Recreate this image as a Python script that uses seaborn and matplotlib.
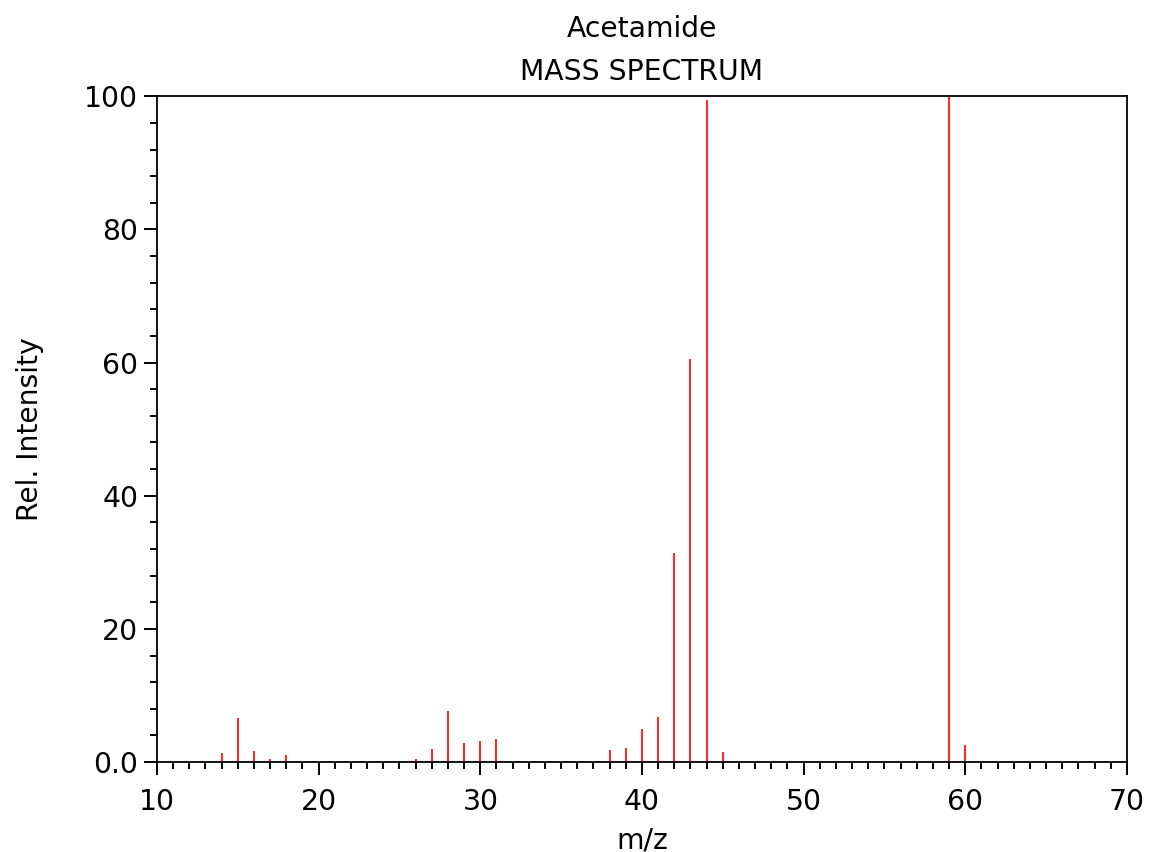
import numpy as np
import matplotlib.pyplot as plt
import seaborn as sns
from matplotlib.ticker import MultipleLocator

# peak positions (m/z) and relative intensities
mz = [14, 15, 16, 17, 18, 25, 26, 27, 28, 29, 30, 31,
      38, 39, 40, 41, 42, 43, 44, 45, 46, 54, 59, 60, 61]
intensity = [1.3, 6.6, 1.6, 0.4, 1.1, 0.1, 0.4, 1.9, 7.6, 2.9, 3.2, 3.5,
             1.8, 2.1, 4.9, 6.7, 31.4, 60.5, 99.4, 1.5, 0.2, 0.1, 100.0, 2.6, 0.2]

sns.set_theme(style="ticks")
plt.rcParams['font.family'] = ['DejaVu Sans']
FS = 20.3

fig = plt.figure(figsize=(11.5, 8.52), dpi=100)
ax = fig.add_axes([0.1365, 0.1056, 0.8435, 0.7814])

ax.vlines(mz, 0, intensity, color="red", linewidth=1.2)

ax.set_xlim(10, 70)
ax.set_ylim(0, 100)
ax.xaxis.set_major_locator(MultipleLocator(10))
ax.xaxis.set_minor_locator(MultipleLocator(1))
ax.yaxis.set_major_locator(MultipleLocator(20))
ax.yaxis.set_minor_locator(MultipleLocator(4))
ax.set_yticks([0, 20, 40, 60, 80, 100])
ax.set_yticklabels(["0.0", "20", "40", "60", "80", "100"])

ax.tick_params(axis="both", which="major", direction="out", length=9.5, width=1.4,
               labelsize=FS, color="black", labelcolor="black")
ax.tick_params(axis="x", which="major", pad=9.5)
ax.tick_params(axis="y", which="major", pad=4)
ax.tick_params(axis="both", which="minor", direction="out", length=5, width=1.4,
               color="black")
for s in ax.spines.values():
    s.set_color("black")
    s.set_linewidth(1.3)

ax.set_xlabel("m/z", fontsize=FS, color="black", labelpad=7)
ax.set_ylabel("Rel. Intensity", fontsize=FS, color="black", labelpad=29)
ax.set_title("Acetamide\nMASS SPECTRUM", fontsize=FS, color="black", pad=12,
             linespacing=1.65)

fig.savefig("out.png", dpi=100, facecolor="white")
